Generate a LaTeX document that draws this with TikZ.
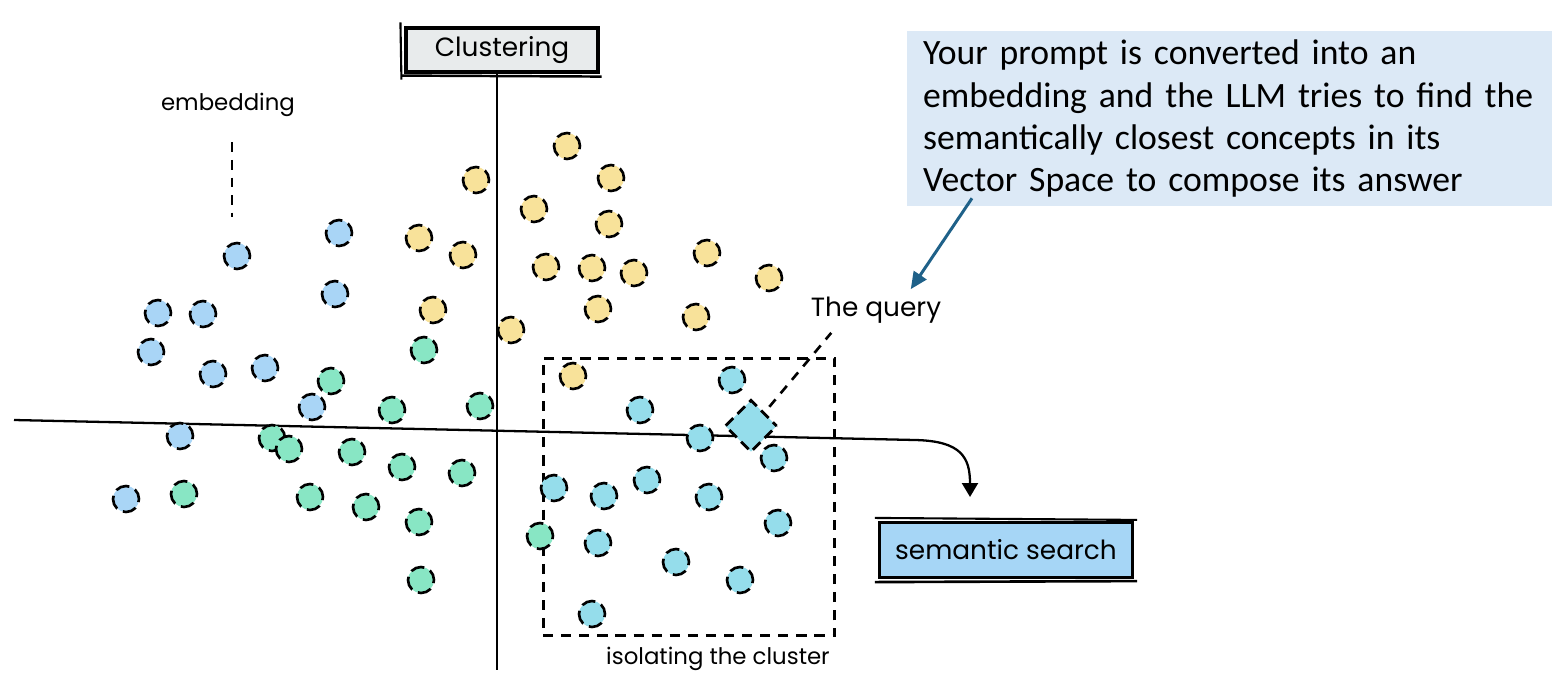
\documentclass[tikz,border=0pt]{standalone}
\usepackage{fontspec}
\setmainfont{Carlito}
\newfontfamily\handfont{Poppins}
\usetikzlibrary{arrows.meta, positioning, shapes.geometric, calc}
\definecolor{cblue}{HTML}{A9D5F6}
\definecolor{cgreen}{HTML}{88E6C4}
\definecolor{cyellow}{HTML}{F8E29A}
\definecolor{ccyan}{HTML}{95DDEB}
\definecolor{cpaper}{HTML}{E8EBEC}
\definecolor{csearch}{HTML}{A6D6F6}
\definecolor{cnote}{HTML}{DCE9F6}
\definecolor{cteal}{HTML}{1F6189}
\tikzset{
  every picture/.style={x=0.02cm, y=-0.02cm, line width=1.3pt},
  blob/.style={circle, draw=black, fill=#1, minimum size=0.52cm, inner sep=0pt, line width=1.5pt, dash pattern=on 8pt off 3.6pt, dash phase=2pt},
  blob/.default=cblue,
  tag/.style={draw=black, fill=#1, line width=1.8pt, inner sep=0pt, font=\handfont\fontsize{15}{17}\selectfont},
  hand/.style={font=\handfont\fontsize{13}{15}\selectfont, inner sep=2pt},
  dashline/.style={line width=1.5pt, dash pattern=on 5.5pt off 4.5pt},
  axis/.style={line width=1.3pt},
  callarrow/.style={-{Triangle[length=0.34cm, width=0.3cm]}, draw=cteal, line width=1.7pt},
}

\begin{document}
\begin{tikzpicture}
  \useasboundingbox (0,0) rectangle (1552,676);
  % axes
  \node[tag=cpaper, minimum width=3.84cm, minimum height=0.88cm] (clus) at (502,50) {Clustering};
  \draw[line width=1.4pt] ([shift={(-3,2)}]clus.south west) -- ([shift={(2,3)}]clus.south east);
  \draw[line width=1.2pt] ([shift={(-4,-4)}]clus.north west) -- ([shift={(-3,6)}]clus.south west);
  \coordinate (axbot) at (497,670);
  \coordinate (axleft) at (14,420);
  \coordinate (axtip) at (970,497);
  \draw[axis] (clus.south -| axbot) -- (axbot);
  \draw[axis, -{Triangle[length=0.28cm, width=0.32cm]}] (axleft) -- (915,440) .. controls (962,441) and (970,458) .. (axtip);
  \node[tag=csearch, minimum width=5.06cm, minimum height=1.1cm] (search) at (1006,550) {semantic search};
  \draw[line width=1.5pt] ([shift={(-3,3)}]search.south west) -- ([shift={(3,2)}]search.south east);
  \draw[line width=1.2pt] ([shift={(-3,-3)}]search.north west) -- ([shift={(3,-1)}]search.north east);

  % isolated cluster
  \node[draw=black, dashline, line width=1.7pt, dash pattern=on 5.8pt off 4.5pt, minimum width=5.84cm, minimum height=5.56cm] (iso) at (689,497) {};
  \node[hand] (isolab) at (718,659) {isolating the cluster};

  % yellow group
  \foreach \px/\py [count=\i] in {567/146, 611/178, 476/180, 534/209, 609/224, 419/238, 463/255, 546/267, 592/268, 634/273, 707/253, 769/278, 433/310, 598/309, 696/317, 511/330, 573/376}
    \node[blob=cyellow] (y\i) at (\px,\py) {};
  % blue group
  \foreach \px/\py [count=\i] in {237/256, 339/233, 335/294, 158/313, 203/314, 151/352, 213/374, 265/368, 312/407, 180/436, 126/499}
    \node[blob=cblue] (b\i) at (\px,\py) {};
  % green group
  \foreach \px/\py [count=\i] in {424/350, 331/381, 392/410, 480/406, 272/438, 289/449, 352/452, 402/467, 462/473, 184/494, 310/497, 366/507, 419/522, 421/580, 540/536}
    \node[blob=cgreen] (g\i) at (\px,\py) {};
  % neighbours of the query
  \foreach \px/\py [count=\i] in {732/380, 640/410, 700/438, 774/458, 554/488, 604/496, 647/480, 709/497, 778/523, 598/543, 676/562, 740/580, 592/614}
    \node[blob=ccyan] (c\i) at (\px,\py) {};

  % query point
  \node[diamond, draw=black, fill=ccyan, inner sep=0pt, minimum size=1.05cm, line width=1.6pt, dash pattern=on 6pt off 3.5pt, dash phase=3pt] (query) at (751,426) {};
  \node[hand, font=\handfont\fontsize{15}{17}\selectfont] (qlab) at (876,310) {The query};
  \draw[dashline, shorten <=4pt] (query.north east) -- ([xshift=0.5cm, yshift=-0.1cm]qlab.south west);

  % embedding label
  \node[hand] (emb) at (228,105) {embedding};
  \draw[dashline, shorten <=0.42cm, shorten >=0.5cm] ([xshift=0.08cm]emb.south) -- ([xshift=0.08cm]emb.south |- b1.north);

  % explanation
  \node[fill=cnote, anchor=north west, text width=12.6cm, inner xsep=0.32cm, minimum height=3.5cm, align=left, font=\fontsize{20.3}{24}\selectfont] (note) at (906,30)
    {Your prompt is converted into an\\ embedding and the LLM tries to find the\\ semantically closest concepts in its\\ Vector Space to compose its answer};
  \draw[callarrow] ([xshift=1.32cm, yshift=0.18cm]note.south west) -- ([xshift=-0.7cm, yshift=0.06cm]qlab.north east);
\end{tikzpicture}
\end{document}
